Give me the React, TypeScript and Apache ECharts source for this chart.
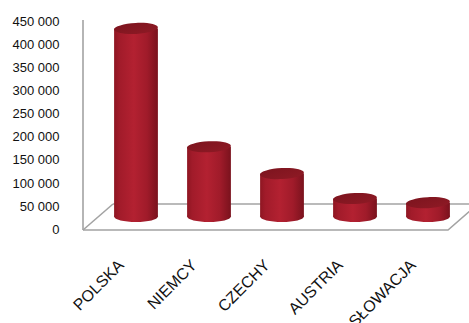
import React, { useEffect, useRef } from "react";
import * as echarts from "echarts";

// Export volumes by destination country
const categories = ["POLSKA", "NIEMCY", "CZECHY", "AUSTRIA", "SŁOWACJA"];
const values = [407000, 151000, 93000, 39000, 30000];
const yTicks = { min: 0, max: 450000, interval: 50000 };

const W = 469;
const H = 323;

const formatThousands = (v: number) =>
  String(v).replace(/\B(?=(\d{3})+(?!\d))/g, " ");

const bodyGradient = () =>
  new echarts.graphic.LinearGradient(0, 0, 1, 0, [
    { offset: 0, color: "#8e1622" },
    { offset: 0.12, color: "#a11b2a" },
    { offset: 0.45, color: "#b32131" },
    { offset: 0.75, color: "#a01b2a" },
    { offset: 1, color: "#7a121d" },
  ]);

export default function App() {
  const ref = useRef<HTMLDivElement>(null);

  useEffect(() => {
    if (!ref.current) return;
    const chart = echarts.init(ref.current, null, { renderer: "svg" });
    const frame = "#a3a3a3";

    chart.setOption({
      animation: false,
      backgroundColor: "#ffffff",
      grid: [
        // plotting area for the cylinders (mid-depth of the floor)
        { left: 99.5, right: 4.5, top: 8.6, bottom: 106.5, containLabel: false, outerBoundsMode: "none" },
        // front plane carrying the axis labels
        { left: 84.5, right: 19.5, top: 21, bottom: 93.7, containLabel: false, outerBoundsMode: "none" },
      ],
      xAxis: [
        {
          type: "category",
          data: categories,
          gridIndex: 0,
          show: false,
        },
        {
          type: "category",
          data: categories,
          gridIndex: 1,
          axisLine: { show: false },
          axisTick: { show: false },
          axisLabel: {
            rotate: 45,
            margin: 33,
            interval: 0,
            fontFamily: "Liberation Sans, Arial, sans-serif",
            fontSize: 16,
            color: "#111111",
          },
        },
      ],
      yAxis: [
        {
          type: "value",
          gridIndex: 0,
          ...yTicks,
          show: false,
        },
        {
          type: "value",
          gridIndex: 1,
          ...yTicks,
          axisLine: { show: false },
          axisTick: { show: false },
          splitLine: { show: false },
          axisLabel: {
            margin: 25,
            fontFamily: "Liberation Sans, Arial, sans-serif",
            fontSize: 13,
            color: "#111111",
            formatter: (v: number) => formatThousands(v),
          },
        },
      ],
      graphic: [
        {
          type: "group",
          z: 0,
          silent: true,
          children: [
            { type: "line", shape: { x1: 83, y1: 20, x2: 83, y2: 230 }, style: { stroke: frame, lineWidth: 1.6 } },
            { type: "line", shape: { x1: 83, y1: 230, x2: 113, y2: 204 }, style: { stroke: frame, lineWidth: 1.6 } },
            { type: "line", shape: { x1: 113, y1: 204, x2: 480, y2: 204 }, style: { stroke: frame, lineWidth: 1.6 } },
            {
              type: "polyline",
              shape: { points: [[83, 230], [448, 230], [478, 204]] },
              style: { stroke: frame, lineWidth: 1.6, fill: null },
            },
          ],
        },
      ],
      series: [
        {
          type: "custom",
          xAxisIndex: 0,
          yAxisIndex: 0,
          z: 5,
          encode: { x: 0, y: 1 },
          data: values.map((v, i) => [i, v]),
          renderItem: (params: any, api: any) => {
            const base = api.coord([api.value(0), 0]);
            const top = api.coord([api.value(0), api.value(1)]);
            const w = api.size([1, 0])[0] * 0.6;
            const rx = w / 2;
            const ry = 5.5;
            const cx = base[0];
            return {
              type: "group",
              children: [
                {
                  type: "ellipse",
                  shape: { cx, cy: base[1], rx, ry },
                  style: { fill: bodyGradient() },
                },
                {
                  type: "rect",
                  shape: { x: cx - rx, y: top[1], width: w, height: base[1] - top[1] },
                  style: { fill: bodyGradient() },
                },
                {
                  type: "ellipse",
                  x: cx,
                  y: top[1],
                  rotation: 0.05,
                  shape: { cx: 0, cy: 0, rx, ry },
                  style: {
                    fill: new echarts.graphic.LinearGradient(0, 0, 1, 1, [
                      { offset: 0, color: "#7c141e" },
                      { offset: 1, color: "#8f1a25" },
                    ]),
                  },
                },
              ],
            };
          },
        },
      ],
    });

    return () => chart.dispose();
  }, []);

  return (
    <div
      ref={ref}
      style={{ position: "absolute", left: 0, top: 0, width: W, height: H }}
    />
  );
}
